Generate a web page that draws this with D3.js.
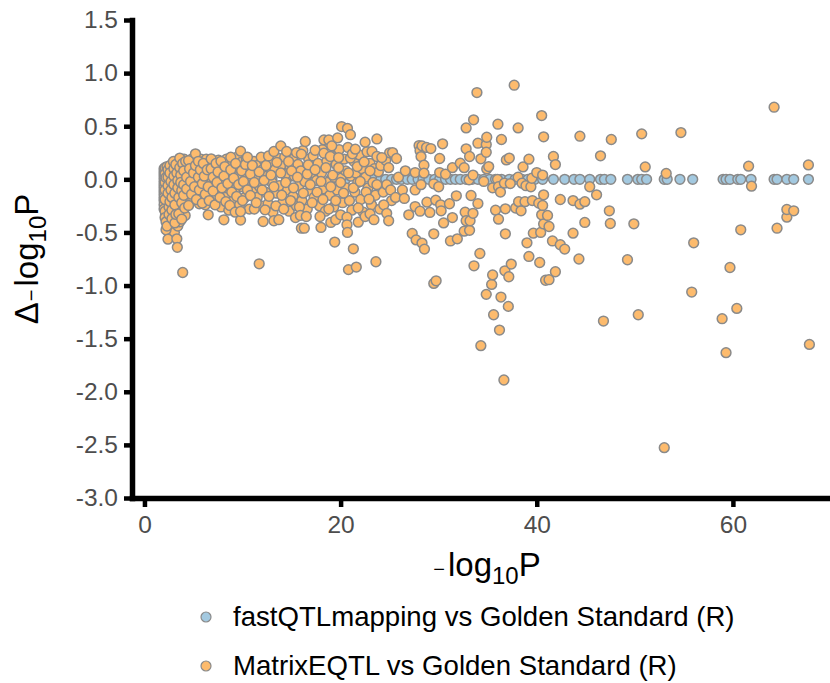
<!DOCTYPE html>
<html>
<head>
<meta charset="utf-8">
<script src="https://cdn.jsdelivr.net/npm/d3@7"></script>
<style>
  html, body { margin: 0; padding: 0; background: #fff; }
  svg { display: block; font-family: "Liberation Sans", Arial, sans-serif; }
</style>
</head>
<body>
<div id="chart"></div>
<script>
const xTicks = [0, 20, 40, 60]
const yTicks = [1.5, 1.0, 0.5, 0.0, -0.5, -1.0, -1.5, -2.0, -2.5, -3.0]
const seriesNames = ['fastQTLmapping vs Golden Standard (R)', 'MatrixEQTL vs Golden Standard (R)']

// fastQTLmapping: -log10P, delta is about 0 all along
const fastX = [2.1, 2.4, 2.9, 3.5, 4.2, 5.1, 6.3, 7.4, 8.8, 10.1, 11.6, 13, 14.5, 16, 17.4, 19, 20.5, 22, 23.4, 24.1, 24.6, 25.2, 25.7, 26.2, 26.8, 27.3, 27.9, 28.4, 29, 29.6, 30.1, 30.7, 31.2, 31.7, 32.2, 32.8, 33.4, 34, 34.6, 35.2, 35.8, 36.4, 37.2, 37.8, 38.5, 39.1, 39.8, 40.6, 41.7, 42.85, 43.8, 44.4, 45.4, 46.5, 46.9, 47.55, 49.25, 50.3, 50.7, 51.2, 53, 53.3, 54.6, 55.9, 59, 59.3, 59.7, 60.5, 60.8, 61.85, 64.2, 64.5, 65.5, 66.2, 67.7]
const fastDelta = fastX.map(() => 0)

// MatrixEQTL, the packed part of the cloud under x = 25 (drawn first)
const matrixBackPoints = [
  [2.05, .09], [2.15, .03], [2.25, -.04], [2.05, -.12], [2.35, -.16], [2.1, -.22], [2.3, -.27], [2.15, -.33], [2.45, -.38], [2.55, .1], [2.65, .03], [2.55, -.07], [2.75, -.14], [2.45, -.2], [2.65, -.25], [2.85, -.31], [2.6, -.41], [2.9, -.46], [2.5, -.5], [2.75, -.53], [3.05, -.5],
  [2.85, .12], [3.15, .08], [3.05, -.02], [2.95, -.09], [3.25, -.17], [3.05, -.2], [3.3, -.28], [3.15, -.37], [3.4, -.44], [3.6, -.4], [3.5, .16], [3.45, .03], [3.65, -.06], [3.55, -.13], [3.75, -.27], [3.95, -.18], [4.15, -.34], [4.3, -.22], [4.05, .19], [4.1, .03], [4.4, .12], [4.55, -.04], [4.7, -.19], [4.35, -.14], [4.85, .1], [4.95, -.1], [4.8, .19],
  [5.1, .17], [5.25, .01], [5.35, -.14], [5.45, .1], [5.6, -.23], [5.75, .19], [5.85, .04], [5.95, -.13], [6.05, .08], [6.2, -.24], [6.3, .19], [6.35, -.03], [6.55, .12], [6.7, -.1], [6.75, .02], [6.9, -.2], [7.05, .16], [7.15, -.06], [7.25, .06], [7.4, -.15], [7.55, .18], [7.65, -.02], [7.8, -.26], [7.95, .1], [8.05, -.1], [8.25, -.17], [8.35, .19], [8.45, .04], [8.6, -.29], [8.75, -.07], [8.95, .15], [9.05, -.2], [9.15, .06],
  [9.3, -.09], [9.45, .21], [9.55, .02], [9.7, -.24], [9.85, .16], [10, -.07], [10.15, .07], [10.25, -.17], [10.4, .19], [10.55, -.01], [10.7, -.28], [10.9, .1], [11, -.12], [11.15, .17], [11.3, .03], [11.5, -.17], [11.55, .13], [11.75, -.07], [11.9, -.25], [12.05, .09], [12.25, .17], [12.35, -.12], [12.5, .03], [12.6, -.23], [12.85, .15], [13, -.03], [13.1, -.31], [13.3, .09], [13.45, -.13], [13.6, .2], [13.75, -.06], [14, .14], [14.1, -.22],
  [14.3, .21], [14.4, .05], [14.6, -.1], [14.75, -.3], [14.85, .12], [15.1, .19], [15.15, -.16], [15.3, .03], [15.5, -.25], [15.65, .14], [15.75, -.06], [15.95, .08], [16.05, -.2], [16.15, .27], [16.35, -.02], [16.6, -.28], [16.75, .19], [16.95, -.11], [17, .06], [17.2, .22], [17.3, -.17], [17.55, -.01], [17.7, .15], [17.85, -.25], [18.05, .06], [18.15, .28], [18.25, -.09], [18.45, -.3], [18.6, .17], [18.7, -.03], [18.9, -.15], [19.15, .22], [19.3, -.26], [19.35, .02], [19.55, .14], [19.65, -.1], [19.85, .28], [20.05, .01], [20.2, -.22], [20.35, .19],
  [20.5, .08], [20.55, -.08], [20.75, .3], [20.9, -.2], [21.05, .03], [21.15, -.29], [21.35, .17], [21.45, -.12], [21.55, .06], [21.75, -.03], [21.9, .23], [22.05, -.19], [22.2, .1], [22.3, -.31], [22.55, .02], [22.7, .26], [22.8, -.08], [23, .15], [23.15, -.24], [23.3, -.03], [23.45, .1], [23.55, -.15], [23.85, .07], [24, -.28], [24.1, .13], [24.35, -.12], [24.6, .18], [24.7, -.05], [25, .25], [25.2, -.2]
]

// MatrixEQTL: [-log10P, delta]
const matrixPoints = [
  // x 2-4, packed column on the left
  [2, .1], [2, .07], [2, .04], [2, .01], [2, -.02], [2, -.05], [2, -.08], [2, -.11], [2, -.14], [2, -.17], [2, -.2], [2, -.24], [2, -.28],
  [2.1, .11], [2.1, .05], [2.1, -.03], [2.1, -.1], [2.1, -.19], [2.1, -.3], [2.1, -.36], [2.2, -.4], [2.2, -.475], [2.3, -.44], [2.2, .017], [2.4, -.563], [2.3, .12],
  [2.4, .09], [2.4, .02], [2.4, -.06], [2.4, -.13], [2.5, -.26], [2.5, -.33], [2.6, -.21], [2.6, .13], [2.6, .06], [2.7, -.02], [2.7, -.1], [2.8, -.17], [2.8, -.29], [2.8, -.37],
  [2.95, .168], [3, .1], [3, .03], [3, -.05], [3.1, -.41], [3.1, -.13], [3.1, -.24], [3.2, .14], [3.2, -.33], [3.3, -.56], [3.35, -.64], [3.3, .06], [3.4, -.01], [3.4, -.08], [3.5, -.325], [3.5, -.17],
  [3.6, .2], [3.6, .11], [3.7, .04], [3.7, -.03], [3.8, -.105], [3.8, -.375], [3.8, -.22], [3.9, .15], [3.9, -.877], [4, .08], [4, -.05], [4, -.15], [4.1, -.27], [4.2, .17], [4.3, .02], [4.3, -.09],
  // x 4.5-9
  [4.5, .177], [4.5, -.246], [4.6, .1], [4.7, -.02], [4.8, -.14], [5, .06], [5.1, -.07], [5.2, .24], [5.2, .13], [5.3, -.19], [5.5, .17], [5.5, .02], [5.6, -.1], [5.7, .09], [5.9, -.224], [5.9, -.04], [6, .15], [6.1, .03], [6.2, -.14], [6.4, .09], [6.5, -.334], [6.5, -.07], [6.6, -.2],
  [6.8, .193], [6.8, .1], [7, .02], [7, -.11], [7.2, -.24], [7.3, .15], [7.4, -.03], [7.5, .07], [7.7, -.17], [7.8, .17], [7.9, -.08], [8.1, -.381], [8.1, .03], [8.2, .12], [8.3, -.21], [8.5, -.04], [8.7, -.246], [8.8, .208], [8.8, .09], [8.9, -.12], [9.1, .01],
  // x 9-14
  [9.25, -.309], [9.3, .15], [9.4, -.16], [9.6, -.05], [9.8, .265], [9.8, -.384], [9.8, -.303], [9.9, .08], [10, -.2], [10.1, -.02], [10.3, .14], [10.5, .208], [10.5, -.1], [10.8, -.152], [10.8, .05], [11, .13], [11.2, -.28], [11.2, -.03], [11.4, -.22], [11.7, -.795], [11.7, .07], [11.9, .208], [12, -.1], [12.1, -.397], [12.2, -.01], [12.3, -.287], [12.4, .13], [12.65, .22], [12.7, -.16], [12.9, .04], [13.2, .262], [13.2, -.39], [13.2, -.07], [13.4, -.25], [13.5, .16], [13.7, -.38], [13.9, .315], [13.9, .06], [14, -.15],
  // x 14-20
  [14.2, -.28], [14.4, -.03], [14.5, .262], [14.7, .168], [14.9, -.2], [15, .08], [15.2, -.08], [15.4, -.36], [15.5, .252], [15.6, .02], [15.8, -.26], [15.9, -.34], [16, .237], [16, -.46], [16.2, -.13], [16.3, -.46], [16.4, .356], [16.5, -.35], [16.6, .05], [16.7, .136], [16.9, -.05], [17.1, -.22], [17.4, .274], [17.4, .09], [17.6, -.12], [17.9, -.35], [18, -.453], [18, -.02], [18.2, -.19], [18.3, .371], [18.3, .246], [18.5, .11], [18.8, .371], [18.8, -.28], [18.95, .215], [19, -.406], [19, -.07], [19.1, .315], [19.2, .04], [19.4, -.591], [19.5, -.38], [19.5, -.2], [19.7, .39], [19.8, .205], [19.8, .11], [20, -.334], [20, -.03],
  // x 20-26
  [20.1, .497], [20.3, -.13], [20.65, -.356], [20.65, -.428], [20.7, .48], [20.7, -.5], [20.8, -.85], [20.8, .06], [21, .42], [21, .2], [21.2, .24], [21.3, -.654], [21.3, -.08], [21.5, .284], [21.6, -.826], [21.7, .12], [21.8, -.403], [21.8, -.27], [22, -.02], [22.4, .164], [22.5, .35], [22.5, -.35], [22.6, -.12], [22.9, -.187], [23, -.325], [23, .08], [23.2, .262], [23.4, -.38], [23.6, -.776], [23.7, .38], [23.7, .215], [23.7, -.05], [24.2, .205], [24.4, -.24], [24.7, -.32], [24.9, -.39], [24.9, .11], [25.1, -.1], [25.3, .252], [25.6, -.17], [25.7, .196], [25.9, .02],
  // x 26-34
  [26.3, -.1], [26.5, -.18], [26.6, .08], [26.95, -.334], [27.3, -.51], [27.6, .064], [27.6, -.1], [27.6, -.256], [27.7, -.57], [28, .318], [28.1, .27], [28.1, -.3], [28.2, .214], [28.2, -.05], [28.3, .315], [28.3, -.6], [28.5, .133], [28.5, .058], [28.55, -.657], [28.76, .3], [28.8, -.215], [29.1, -.312], [29.2, .29], [29.5, -.042], [29.5, -.513], [29.5, -.98], [29.7, -.196], [29.74, -.955], [30, -.07], [30.1, .196], [30.1, .064], [30.2, -.24], [30.25, -.296], [30.4, .334], [30.5, -.41], [30.7, .048], [31.1, -.23], [31.2, -.58], [31.4, .11], [31.4, -.36], [31.8, -.155], [31.9, -.56], [32.2, .152], [32.6, .11], [32.6, -.488], [32.7, -.31], [32.8, .484], [32.8, .287], [32.8, -.39], [33.1, -.005], [33.15, .215], [33.15, -.48], [33.2, -.39], [33.3, -.152], [33.5, .04], [33.5, -.32], [33.56, .56], [33.6, -.814], [33.9, .817],
  // x 34-42
  [34, .34], [34, -.228], [34.2, -.698], [34.3, .193], [34.3, -1.566], [34.6, -.02], [34.85, .327], [34.85, .255], [34.85, -1.083], [34.9, .396], [34.9, .098], [35.1, .12], [35.4, -.989], [35.5, -.08], [35.5, -.9], [35.6, -1.275], [35.8, -.29], [36, 0], [36.04, .519], [36.1, -.07], [36.1, -.375], [36.2, -1.419], [36.3, -.12], [36.35, -1.108], [36.4, .375], [36.65, -1.889], [36.7, -.036], [36.75, -.861], [36.8, -.278], [36.8, -.513], [36.9, .183], [37.1, -1.196], [37.15, -.917], [37.2, .2], [37.3, -.04], [37.4, -.798], [37.7, .886], [37.85, -.27], [38.1, .484], [38.1, .02], [38.15, -.21], [38.4, -.296], [38.5, -.036], [38.6, .117], [38.8, -.21], [38.9, -.06], [39, -.598], [39.2, .19], [39.2, -.726], [39.4, -.07], [39.5, .01], [39.55, -.2], [39.65, -.507], [40, .064], [40.2, -.224], [40.3, -.783], [40.4, -.5], [40.5, .6], [40.5, -.334], [40.6, .04], [40.6, -.246], [40.7, .4], [40.7, -.146], [40.7, -.42], [40.9, -.95], [41.1, -.34], [41.25, -.444], [41.25, -.945], [41.6, -.58], [41.7, .215], [41.9, .139], [41.9, -.87],
  // x 42 and up
  [42.4, -.19], [42.4, -.616], [42.85, -.657], [43.7, -.2], [43.7, -.507], [44.3, -.75], [44.4, .406], [44.4, -.234], [44.9, -.21], [44.9, -.406], [45.4, -.07], [46.1, -.146], [46.5, .221], [46.8, -1.334], [47.4, -.296], [47.5, -.416], [47.6, .375], [49.25, -.757], [49.9, -.419], [50.35, -1.275], [50.7, .428], [51.06, .117], [53, -2.526], [53.2, .055], [54.7, .44], [55.8, -1.061], [56, -.598], [58.9, -1.312], [59.3, -1.632], [59.7, -.83], [60.4, -1.215], [60.8, -.475], [61.6, .124], [61.9, -.064], [64.2, .679], [64.5, -.46], [65.5, -.356], [65.5, -.284], [66.2, -.296], [67.7, .136], [67.8, -1.554]
]

const width = 830
const height = 683
const colors = ['#a3c9e0', '#fdbb6d']
const strokeColor = '#8a8a8a'

const svg = d3.select('#chart').append('svg').attr('width', width).attr('height', height)

const x = d3.scaleLinear().domain([-1.27, 69.9]).range([132, 830])
const y = d3.scaleLinear().domain([-3, 1.5]).range([498, 20])

// 座標軸
const yAxis = d3.axisLeft(y).tickValues(yTicks).tickFormat(d3.format('.1f')).tickSizeInner(8).tickSizeOuter(0).tickPadding(6)
const xAxis = d3.axisBottom(x).tickValues(xTicks).tickSizeInner(9).tickSizeOuter(0).tickPadding(9)

const drawAxis = (axis, tx, ty) => {
  const g = svg.append('g').attr('transform', `translate(${tx},${ty})`).call(axis)
  g.select('.domain').attr('stroke', '#000').attr('stroke-width', 5.5).attr('stroke-linecap', 'square')
  g.selectAll('.tick line').attr('stroke', '#000').attr('stroke-width', 4.5)
  g.selectAll('.tick text')
    .attr('fill', '#4d4d4d')
    .style('font-family', '"Liberation Sans", Arial, sans-serif')
    .style('font-size', '24.5px')
    .text(function () { return d3.select(this).text().replace('−', '-') })
  return g
}

const plot = svg.append('g')
const drawPoints = (data, fill) => {
  plot.append('g')
    .selectAll('circle')
    .data(data)
    .join('circle')
    .attr('cx', d => x(d[0]))
    .attr('cy', d => y(d[1]))
    .attr('r', 4.9)
    .attr('fill', fill)
    .attr('stroke', strokeColor)
    .attr('stroke-width', 1.5)
}

drawPoints(fastX.map((v, i) => [v, fastDelta[i]]), colors[0])
drawPoints(matrixBackPoints.concat(matrixPoints), colors[1])

drawAxis(yAxis, 132, 0)
drawAxis(xAxis, 0, 498)

// 軸標題
const axisTitle = (sel, prefix) => {
  sel.attr('fill', '#000').style('font-size', '33px')
  sel.append('tspan').text(prefix)
  sel.append('tspan').text('\u2212').style('font-size', '20px').attr('dx', 1)
  sel.append('tspan').text('log').attr('dx', 3)
  sel.append('tspan').text('10').attr('dy', 8).style('font-size', '24px')
  sel.append('tspan').text('P').attr('dy', -8)
}
svg.append('text').attr('x', 486).attr('y', 576).attr('text-anchor', 'middle').call(axisTitle, '')
svg.append('text').attr('transform', 'translate(38,259) rotate(-90)').attr('text-anchor', 'middle').call(axisTitle, '\u0394')

// 圖例
const legend = svg.append('g')
const legendY = d3.scalePoint().domain(seriesNames).range([617, 666])
seriesNames.forEach((name, i) => {
  legend.append('circle')
    .attr('cx', 206)
    .attr('cy', legendY(name))
    .attr('r', 5)
    .attr('fill', colors[i])
    .attr('stroke', strokeColor)
    .attr('stroke-width', 1.2)
  legend.append('text')
    .attr('x', 233)
    .attr('y', legendY(name) + 9)
    .attr('fill', '#000')
    .style('font-size', '27.6px')
    .text(name)
})
</script>
</body>
</html>
